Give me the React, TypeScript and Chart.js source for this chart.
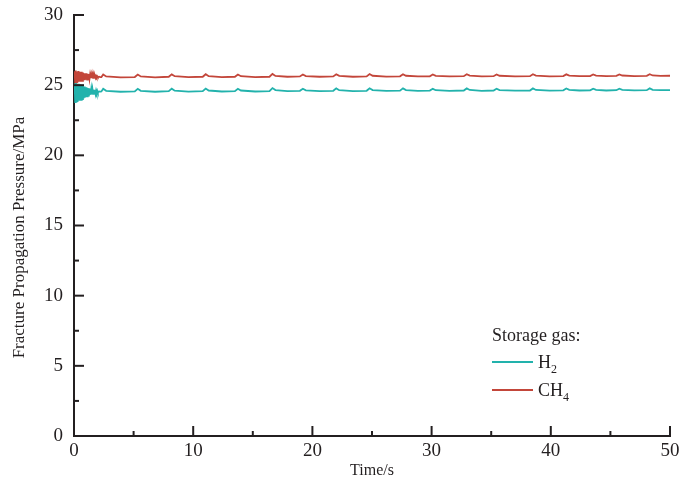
import React, { useEffect, useRef } from "react";
import { Chart, registerables } from "chart.js";
Chart.register(...registerables);

// ---- data ----
const TIME = [
  0.0, 0.05, 0.1, 0.15, 0.2, 0.25, 0.3, 0.35, 0.4, 0.45, 0.5, 0.55, 0.6, 0.65, 0.7, 0.75, 0.8, 0.85, 0.9, 0.95,
  1.0, 1.05, 1.1, 1.15, 1.2, 1.25, 1.3, 1.35, 1.4, 1.45, 1.5, 1.55, 1.6, 1.65, 1.7, 1.75, 1.8, 1.85, 1.9, 1.95,
  2.0, 2.1, 2.2,
  2.3, 2.45, 2.7, 3.9,
  5.1, 5.35, 5.6, 6.8,
  7.95, 8.2, 8.45, 9.6,
  10.8, 11.05, 11.3, 12.4,
  13.5, 13.75, 14.0, 15.2,
  16.4, 16.65, 16.9, 17.9,
  18.95, 19.2, 19.45, 20.6,
  21.75, 22.0, 22.25, 23.4,
  24.55, 24.8, 25.05, 26.2,
  27.35, 27.6, 27.85, 28.85,
  29.85, 30.1, 30.35, 31.5,
  32.7, 32.95, 33.2, 34.2,
  35.2, 35.45, 35.7, 37.0,
  38.25, 38.5, 38.75, 39.9,
  41.05, 41.3, 41.55, 42.4,
  43.3, 43.55, 43.8, 44.65,
  45.5, 45.75, 46.0, 47.0,
  48.05, 48.3, 48.55, 49.2,
  50.0,
];

const H2 = [
  24.5, 25.1, 23.8, 25.15, 23.85, 25.05, 23.8, 25.1, 23.9, 25.0, 23.9, 25.05, 23.95, 24.95, 24.0, 24.95, 24.05, 24.9, 24.1, 24.85,
  24.15, 24.85, 24.2, 24.8, 24.25, 24.78, 24.3, 24.75, 24.32, 24.72, 24.35, 24.7, 24.38, 24.68, 24.4, 24.65, 24.42, 24.62, 24.45, 24.6,
  24.48, 24.55, 24.54,
  24.55, 24.74, 24.6, 24.53,
  24.55, 24.74, 24.6, 24.53,
  24.57, 24.75, 24.61, 24.54,
  24.57, 24.76, 24.62, 24.55,
  24.57, 24.74, 24.62, 24.55,
  24.58, 24.79, 24.65, 24.58,
  24.6, 24.74, 24.63, 24.58,
  24.6, 24.77, 24.64, 24.58,
  24.6, 24.78, 24.65, 24.59,
  24.61, 24.77, 24.65, 24.6,
  24.61, 24.74, 24.64, 24.6,
  24.62, 24.77, 24.66, 24.6,
  24.62, 24.75, 24.65, 24.61,
  24.62, 24.77, 24.66, 24.61,
  24.63, 24.76, 24.66, 24.62,
  24.63, 24.75, 24.66, 24.62,
  24.64, 24.75, 24.67, 24.63,
  24.64, 24.77, 24.67, 24.64,
  24.65,
];

const CH4 = [
  25.6, 26.0, 25.15, 26.05, 25.2, 25.95, 25.2, 26.0, 25.25, 25.95, 25.25, 25.9, 25.3, 25.95, 25.3, 25.9, 25.35, 25.85, 25.35, 25.85,
  25.4, 25.85, 25.4, 25.8, 25.45, 25.8, 25.45, 25.75, 25.5, 25.75, 25.5, 25.72, 25.52, 25.7, 25.54, 25.68, 25.55, 25.66, 25.56, 25.64,
  25.58, 25.6, 25.58,
  25.58, 25.76, 25.62, 25.56,
  25.58, 25.76, 25.62, 25.56,
  25.6, 25.77, 25.64, 25.57,
  25.6, 25.78, 25.64, 25.58,
  25.6, 25.76, 25.64, 25.58,
  25.6, 25.8, 25.66, 25.6,
  25.62, 25.76, 25.65, 25.6,
  25.62, 25.78, 25.66, 25.6,
  25.62, 25.79, 25.67, 25.61,
  25.63, 25.78, 25.67, 25.62,
  25.63, 25.76, 25.66, 25.62,
  25.64, 25.78, 25.68, 25.62,
  25.64, 25.76, 25.67, 25.63,
  25.64, 25.78, 25.68, 25.63,
  25.65, 25.77, 25.68, 25.64,
  25.65, 25.76, 25.68, 25.64,
  25.66, 25.76, 25.69, 25.65,
  25.66, 25.78, 25.69, 25.66,
  25.67,
];

const SERIES_LABELS = ["H2", "CH4"];
const SERIES_COLORS = ["#22b2ac", "#c3463a"];
const LEGEND_TITLE = "Storage gas:";
const X_TITLE = "Time/s";
const Y_TITLE = "Fracture Propagation Pressure/MPa";
const X_MAJOR = [0, 10, 20, 30, 40, 50];
const X_MINOR = [5, 15, 25, 35, 45];
const Y_MAJOR = [0, 5, 10, 15, 20, 25, 30];
const Y_MINOR = [2.5, 7.5, 12.5, 17.5, 22.5, 27.5];

const FONT = "'Liberation Serif', 'Times New Roman', serif";
const INK = "#231f20";

const inwardTicks = {
  id: "inwardTicks",
  afterDatasetsDraw(chart: any) {
    const { ctx, chartArea, scales } = chart;
    const { left, bottom } = chartArea;
    ctx.save();
    ctx.strokeStyle = INK;
    ctx.lineWidth = 2;
    const seg = (x1: number, y1: number, x2: number, y2: number) => {
      ctx.beginPath();
      ctx.moveTo(x1, y1);
      ctx.lineTo(x2, y2);
      ctx.stroke();
    };
    X_MAJOR.forEach((v) => { const p = scales.x.getPixelForValue(v); seg(p, bottom, p, bottom - 10); });
    X_MINOR.forEach((v) => { const p = scales.x.getPixelForValue(v); seg(p, bottom, p, bottom - 5); });
    Y_MAJOR.forEach((v) => { const p = scales.y.getPixelForValue(v); seg(left, p, left + 10, p); });
    Y_MINOR.forEach((v) => { const p = scales.y.getPixelForValue(v); seg(left, p, left + 5, p); });
    ctx.restore();
  },
};

const yTitle = {
  id: "yTitle",
  afterDraw(chart: any) {
    const { ctx, chartArea } = chart;
    ctx.save();
    ctx.fillStyle = INK;
    ctx.font = `17px ${FONT}`;
    ctx.textAlign = "center";
    ctx.textBaseline = "middle";
    ctx.translate(chartArea.left - 54, (chartArea.top + chartArea.bottom) / 2 + 12);
    ctx.rotate(-Math.PI / 2);
    ctx.fillText(Y_TITLE, 0, 0);
    ctx.restore();
  },
};

const drawSubText = (ctx: any, text: string, x: number, y: number) => {
  let cx = x;
  for (const ch of text) {
    const isDigit = /[0-9]/.test(ch);
    ctx.font = isDigit ? `12px ${FONT}` : `18px ${FONT}`;
    ctx.fillText(ch, cx, isDigit ? y + 5 : y);
    cx += ctx.measureText(ch).width;
  }
};

const gasLegend = {
  id: "gasLegend",
  afterDraw(chart: any) {
    const { ctx, chartArea } = chart;
    const x0 = chartArea.right - 178;
    const y0 = chartArea.bottom - 95;
    ctx.save();
    ctx.fillStyle = INK;
    ctx.textBaseline = "alphabetic";
    ctx.textAlign = "left";
    ctx.font = `18px ${FONT}`;
    ctx.fillText(LEGEND_TITLE, x0, y0);
    chart.data.datasets.forEach((ds: any, i: number) => {
      const ly = y0 + 21 + i * 28;
      ctx.strokeStyle = ds.borderColor;
      ctx.lineWidth = 2;
      ctx.beginPath();
      ctx.moveTo(x0, ly);
      ctx.lineTo(x0 + 41, ly);
      ctx.stroke();
      ctx.fillStyle = INK;
      drawSubText(ctx, ds.label, x0 + 46, ly + 6);
    });
    ctx.restore();
  },
};

export default function App() {
  const ref = useRef<HTMLCanvasElement>(null);
  useEffect(() => {
    if (!ref.current) return;
    const mk = (vals: number[]) => TIME.map((t, i) => ({ x: t, y: vals[i] }));
    const chart = new Chart(ref.current, {
      type: "line",
      data: {
        datasets: [
          { label: SERIES_LABELS[0], data: mk(H2), borderColor: SERIES_COLORS[0], borderWidth: 1.8, pointRadius: 0, tension: 0 },
          { label: SERIES_LABELS[1], data: mk(CH4), borderColor: SERIES_COLORS[1], borderWidth: 1.8, pointRadius: 0, tension: 0 },
        ],
      },
      options: {
        responsive: false,
        animation: false,
        layout: { padding: { top: 15, right: 10, left: 0, bottom: 0 } },
        plugins: { legend: { display: false }, tooltip: { enabled: false } },
        scales: {
          x: {
            type: "linear",
            min: 0,
            max: 50,
            afterFit: (s: any) => { s.height = 60; s.paddingLeft = 0; s.paddingRight = 0; },
            ticks: { stepSize: 10, color: INK, font: { family: FONT, size: 19 }, padding: 4, maxRotation: 0 },
            grid: { drawOnChartArea: false, drawTicks: false },
            border: { display: true, color: INK, width: 2 },
            title: { display: true, text: X_TITLE, color: INK, font: { family: FONT, size: 16 }, padding: { top: 0, bottom: 16 } },
          },
          y: {
            min: 0,
            max: 30,
            afterFit: (s: any) => { s.width = 74; s.paddingTop = 0; s.paddingBottom = 0; },
            ticks: { stepSize: 5, color: INK, font: { family: FONT, size: 19 }, padding: 11 },
            grid: { drawOnChartArea: false, drawTicks: false },
            border: { display: true, color: INK, width: 2 },
            title: { display: false },
          },
        },
      },
      plugins: [inwardTicks, yTitle, gasLegend],
    });
    return () => chart.destroy();
  }, []);
  return (
    <canvas
      ref={ref}
      width={680}
      height={496}
      style={{ position: "absolute", left: 0, top: 0, display: "block", background: "#fff" }}
    />
  );
}
